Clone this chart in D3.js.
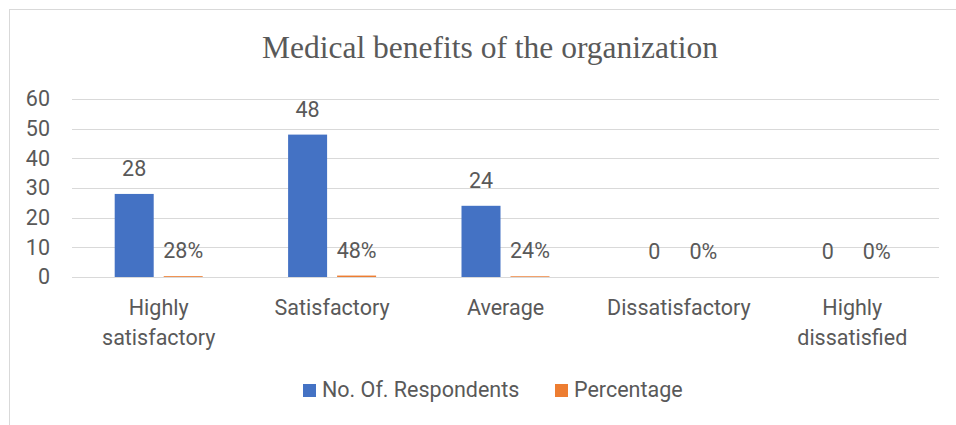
<!DOCTYPE html>
<html>
<head>
<meta charset="utf-8">
<script src="https://cdn.jsdelivr.net/npm/d3@7"></script>
<style>
  body { margin: 0; background: #fff; }
  svg text { font-family: Roboto, "Liberation Sans", sans-serif; fill: #595959; }
  .title { font-family: "Liberation Serif", "Times New Roman", serif; }
</style>
</head>
<body>
<script>
// chart values
var categories = ["Highly satisfactory", "Satisfactory", "Average", "Dissatisfactory", "Highly dissatisfied"]
var respondents = [28, 48, 24, 0, 0]
var percentage = [0.28, 0.48, 0.24, 0, 0]
var percentLabels = ["28%", "48%", "24%", "0%", "0%"]
var seriesNames = ["No. Of. Respondents", "Percentage"]
var yTicks = [0, 10, 20, 30, 40, 50, 60]

var width = 956,
    height = 425,
    margin = {left: 72, right: 17, top: 99, bottom: 148}

var colors = ["#4472C4", "#ED7D31"]

var svg = d3.select("body").append("svg")
            .attr("width", width)
            .attr("height", height)

// chart area frame (only left and top edges show)
svg.append("rect")
   .attr("x", 9.5).attr("y", 9.5)
   .attr("width", 1200).attr("height", 1000)
   .attr("fill", "none")
   .attr("stroke", "#d9d9d9")
   .attr("stroke-width", 1)

svg.append("text")
   .attr("class", "title")
   .attr("x", 490)
   .attr("y", 58)
   .attr("text-anchor", "middle")
   .style("font-size", "31.5px")
   .text("Medical benefits of the organization")

var plotW = width - margin.left - margin.right,
    plotBottom = 277

// scales
var x0 = d3.scaleBand()
           .domain(categories)
           .range([margin.left, margin.left + plotW])
           .paddingInner(0.4925)
           .paddingOuter(0.4925 / 2)

var x1 = d3.scaleBand()
           .domain(seriesNames)
           .range([0, x0.bandwidth()])
           .paddingInner(0.204)

var y = d3.scaleLinear()
          .domain([0, 60])
          .range([plotBottom, margin.top])

// gridlines
svg.append("g")
   .selectAll("line")
   .data(yTicks)
   .enter().append("line")
   .attr("x1", margin.left)
   .attr("x2", margin.left + plotW)
   .attr("y1", function(d) { return Math.round(y(d)) + 0.5 })
   .attr("y2", function(d) { return Math.round(y(d)) + 0.5 })
   .attr("stroke", "#d9d9d9")
   .attr("stroke-width", 1.2)

// y axis labels
var yAxis = svg.append("g")
   .attr("transform", "translate(" + (margin.left - 22) + ",0)")
   .call(d3.axisLeft(y).tickValues(yTicks).tickSize(0).tickPadding(0))
yAxis.select(".domain").remove()
yAxis.selectAll("text")
     .attr("fill", "#595959")
     .style("font-family", "Roboto, sans-serif")
     .style("font-size", "21.5px")

// bars
var rows = categories.map(function(c, i) {
  return {cat: c, values: [
    {s: seriesNames[0], v: respondents[i], label: String(respondents[i]), c: colors[0]},
    {s: seriesNames[1], v: percentage[i], label: percentLabels[i], c: colors[1]}
  ]}
})

var group = svg.append("g").selectAll("g")
   .data(rows)
   .enter().append("g")
   .attr("transform", function(d) { return "translate(" + x0(d.cat) + ",0)" })

group.selectAll("rect")
     .data(function(d) { return d.values })
     .enter().append("rect")
     .attr("x", function(d) { return x1(d.s) })
     .attr("width", x1.bandwidth())
     .attr("y", function(d) { return y(d.v) })
     .attr("height", function(d) { return plotBottom - y(d.v) })
     .attr("fill", function(d) { return d.c })

group.selectAll("text")
     .data(function(d) { return d.values })
     .enter().append("text")
     .attr("x", function(d) { return x1(d.s) + x1.bandwidth() / 2 })
     .attr("y", function(d) { return y(d.v) - 18 })
     .attr("text-anchor", "middle")
     .style("font-size", "21.5px")
     .text(function(d) { return d.label })

// category labels, wrapped to the band width
var catLabels = svg.append("g").selectAll("text")
   .data(categories)
   .enter().append("text")
   .attr("text-anchor", "middle")
   .attr("x", function(d) { return x0(d) + x0.bandwidth() / 2 })
   .attr("y", 315)
   .style("font-size", "21.5px")

catLabels.each(function(d) {
  var t = d3.select(this)
  t.text(d)
  var cx = x0(d) + x0.bandwidth() / 2
  if (this.getComputedTextLength() > x0.step() - 4) {
    var words = d.split(" ")
    t.text("")
    t.append("tspan").attr("x", cx).attr("dy", 0).text(words[0])
    t.append("tspan").attr("x", cx).attr("dy", 30).text(words.slice(1).join(" "))
  }
})

// legend
var legendX = [303, 555]
var legend = svg.append("g").selectAll("g")
   .data(seriesNames)
   .enter().append("g")
   .attr("transform", function(d, i) { return "translate(" + legendX[i] + ",384)" })

legend.append("rect")
      .attr("width", 13).attr("height", 13)
      .attr("fill", function(d, i) { return colors[i] })

legend.append("text")
      .attr("x", 19)
      .attr("y", 13)
      .style("font-size", "21.5px")
      .text(function(d) { return d })
</script>
</body>
</html>
